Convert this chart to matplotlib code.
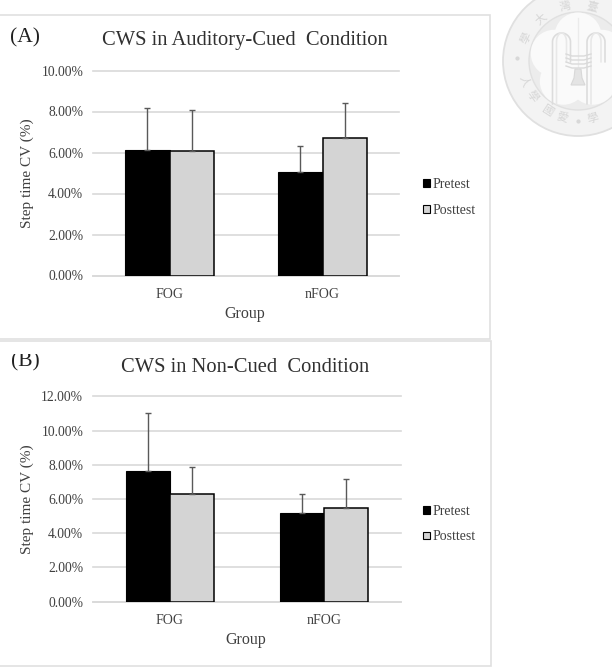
import numpy as np
import matplotlib
matplotlib.use("Agg")
import matplotlib.pyplot as plt
from matplotlib.patches import Circle, Rectangle, Polygon, Patch
from matplotlib.transforms import Bbox

plt.rcParams["font.family"] = ["Liberation Serif", "DejaVu Serif"]

W, H = 612, 669
TEXT = "#404040"
GRID = "#d9d9d9"
POST = "#d4d4d4"

groups = ["FOG", "nFOG"]
series = ["Pretest", "Posttest"]

# step time CV, percent
cued_pre = [6.12, 5.03]
cued_post = [6.06, 6.70]
cued_pre_err = [2.06, 1.30]
cued_post_err = [1.99, 1.70]
cued_ticks = [0, 2, 4, 6, 8, 10]

noncued_pre = [7.62, 5.16]
noncued_post = [6.29, 5.49]
noncued_pre_err = [3.38, 1.11]
noncued_post_err = [1.56, 1.68]
noncued_ticks = [0, 2, 4, 6, 8, 10, 12]

seal_chars = ["學", "大", "灣", "臺", "人", "學", "國", "愛", "學"]
seal_angles = [155, 131, 103, 76, 199, 216, 237, 254, 285]

fig = plt.figure(figsize=(W / 100, H / 100), dpi=100, facecolor="white")


def px_axes(left, top, right, bottom, **kw):
    return fig.add_axes([left / W, 1 - bottom / H, (right - left) / W, (bottom - top) / H], **kw)


# full-figure layer in pixel coords, for frames, seal and free text
bg = px_axes(0, 0, W, H, zorder=0)
bg.set_xlim(0, W)
bg.set_ylim(H, 0)
bg.axis("off")

for box in [(-2, 15, 490, 339), (-2, 341, 491, 666)]:
    bg.add_patch(Rectangle((box[0], box[1]), box[2] - box[0], box[3] - box[1],
                           fc="white", ec="#e0e0e0", lw=1.2))

# university seal, faint, cut by the top and right edges
cx, cy = 578, 61
seal = "#e0e0e0"
bg.add_patch(Circle((cx, cy), 75, fc="#f3f3f3", ec=seal, lw=1.3))
bg.add_patch(Circle((cx, cy), 49, fc="#ececec", ec=seal, lw=1.0))
for a in np.radians(90 + 72 * np.arange(5)):
    bg.add_patch(Circle((cx + 25 * np.cos(a), cy - 25 * np.sin(a)), 23.5, fc="#fafafa", ec="none"))
bg.add_patch(Circle((cx, cy), 24, fc="#fafafa", ec="none"))

# arches and central stem
t = np.linspace(0, np.pi, 40)
for ax_x in (561.5, 596):
    for rx, c in ((9, "#dcdcdc"), (5, "#e8e8e8")):
        xs = np.r_[ax_x - rx, ax_x + rx * np.cos(t[::-1]), ax_x + rx]
        ys = np.r_[104, 42 - 9 * np.sin(t), 62]
        bg.plot(xs, ys, color=c, lw=1.2, solid_capstyle="round")
bg.plot([cx, cx], [18, 68], color="#ebebeb", lw=1.0)
for yy in (54, 58, 62, 66):
    bg.plot([566, 572, 584, 591], [yy, yy + 2, yy + 2, yy], color="#dadada", lw=1.0)
bg.add_patch(Polygon([(575, 69), (581, 69), (582, 78), (585, 85), (571, 85), (574, 78)],
                     fc="#e4e4e4", ec="#d8d8d8", lw=0.8))

for ch, ang in zip(seal_chars, seal_angles):
    a = np.radians(ang)
    bg.text(cx + 57 * np.cos(a), cy - 57 * np.sin(a) + (1 if ang < 180 else 2), ch, fontsize=8.2,
            color="#d6d6d6", rotation=ang - 90 if ang < 180 else ang - 270, ha="center", va="center",
            family=["Noto Sans CJK TC", "DejaVu Sans"])
bg.plot([cx - 61], [cy - 3], "o", ms=2, color="#d8d8d8")
bg.plot([cx], [cy + 60], "o", ms=2, color="#d8d8d8")


def panel(top, bottom, right, pre, post, pre_err, post_err, ticks):
    ax = px_axes(93, top, right, bottom, zorder=1)
    ax.patch.set_alpha(0)
    x = np.arange(len(groups))
    w = 0.288
    err_kw = dict(ecolor="#595959", elinewidth=1.0, capsize=2.2, capthick=1.0)
    ax.bar(x - w / 2, pre, w, color="black", edgecolor="black", linewidth=0.8, zorder=3,
           yerr=[[0, 0], pre_err], error_kw=err_kw, label=series[0])
    ax.bar(x + w / 2, post, w, color=POST, edgecolor="black", linewidth=1.1, zorder=3,
           yerr=[[0, 0], post_err], error_kw=err_kw, label=series[1])
    ax.set_xlim(-0.5, 1.5)
    ax.set_ylim(0, ticks[-1])
    ax.set_yticks(ticks)
    ax.set_yticklabels([f"{v:.2f}%" for v in ticks], fontsize=9.8, color=TEXT)
    ax.set_xticks(x)
    ax.set_xticklabels(groups, fontsize=10, color=TEXT)
    ax.tick_params(axis="y", length=0, pad=7)
    ax.tick_params(axis="x", length=0, pad=9)
    ax.grid(axis="y", color=GRID, lw=1.2, zorder=0)
    ax.set_axisbelow(True)
    for s in ("top", "right", "left"):
        ax.spines[s].set_visible(False)
    ax.spines["bottom"].set_color(GRID)
    ax.spines["bottom"].set_linewidth(1.2)
    for gl in ax.get_ygridlines():
        gl.set_clip_on(False)
    return ax


def legend_at(ax, y_mid_px):
    handles = [Patch(fc="black", ec="black", lw=0.8, label=series[0]),
               Patch(fc=POST, ec="black", lw=0.8, label=series[1])]
    leg = ax.legend(handles=handles, loc="center left", frameon=False, fontsize=10,
                    labelcolor=TEXT, handlelength=0.5, handleheight=0.5, handletextpad=0.2,
                    labelspacing=0.92, borderpad=0, borderaxespad=0,
                    bbox_to_anchor=(423 / W, 1 - y_mid_px / H),
                    bbox_transform=fig.transFigure)
    return leg


ax_a = panel(70.5, 275.5, 399, cued_pre, cued_post, cued_pre_err, cued_post_err, cued_ticks)
legend_at(ax_a, 197.5)
ax_b = panel(396.3, 601.7, 401, noncued_pre, noncued_post, noncued_pre_err, noncued_post_err, noncued_ticks)
legend_at(ax_b, 524)

# titles, axis names and panel letters
bg.text(245, 41, "CWS in Auditory-Cued  Condition", fontsize=14.8, color="#303030", ha="center", va="center")
bg.text(245, 368, "CWS in Non-Cued  Condition", fontsize=14.8, color="#303030", ha="center", va="center")
bg.text(245, 314, "Group", fontsize=11.5, color=TEXT, ha="center", va="center")
bg.text(246, 640, "Group", fontsize=11.5, color=TEXT, ha="center", va="center")
bg.text(27, 173, "Step time CV (%)", fontsize=11, color=TEXT, rotation=90, ha="center", va="center")
bg.text(27, 499, "Step time CV (%)", fontsize=11, color=TEXT, rotation=90, ha="center", va="center")
bg.text(10, 42, "(A)", fontsize=15.5, color="#202020", ha="left", va="baseline")
letter_b = bg.text(11, 366, "(B)", fontsize=15.5, color="#202020", ha="left", va="baseline")
# top of the letter is cut off just under the frame
letter_b.set_clip_box(Bbox([[0, 0], [W, H - 354]]))
letter_b.set_clip_on(True)

fig.savefig("out.png", dpi=100, facecolor="white")
